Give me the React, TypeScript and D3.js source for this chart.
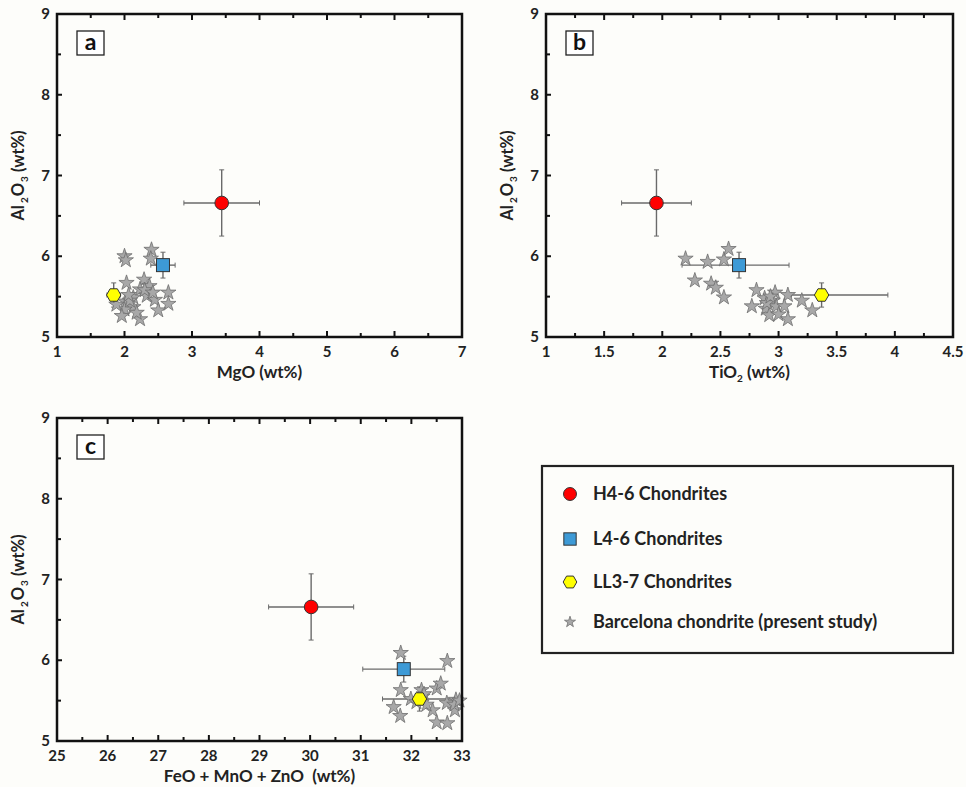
import React from "react";
import * as d3 from "d3";

// ---------- DATA ----------
// Panel a: MgO vs Al2O3
const starsA_MgO = [2.0, 2.02, 2.40, 2.39, 2.03, 2.29, 2.23, 2.37, 2.13, 2.33, 2.45, 2.65, 2.65, 2.50, 2.01, 2.13, 2.0, 1.96, 2.23, 1.88, 2.08, 2.30, 2.18, 2.06, 2.42];
const starsA_Al = [6.0, 5.95, 6.08, 5.97, 5.67, 5.71, 5.59, 5.63, 5.49, 5.51, 5.46, 5.55, 5.41, 5.33, 5.44, 5.37, 5.34, 5.26, 5.22, 5.40, 5.45, 5.58, 5.30, 5.52, 5.55];
// Panel b: TiO2 vs Al2O3
const starsB_TiO2 = [2.20, 2.39, 2.53, 2.57, 2.28, 2.42, 2.46, 2.53, 2.81, 2.88, 2.97, 2.95, 3.08, 3.20, 2.77, 2.89, 2.98, 3.05, 2.92, 3.00, 3.08, 3.29, 2.90, 2.93];
const starsB_Al = [5.97, 5.93, 5.96, 6.09, 5.70, 5.66, 5.61, 5.49, 5.58, 5.48, 5.55, 5.45, 5.52, 5.45, 5.38, 5.35, 5.38, 5.38, 5.27, 5.28, 5.22, 5.33, 5.42, 5.50];
// Panel c: FeO+MnO+ZnO vs Al2O3
const starsC_Fe = [31.79, 32.71, 31.79, 32.20, 32.50, 32.58, 31.99, 31.65, 31.78, 32.42, 32.70, 32.88, 32.86, 32.50, 32.71, 32.22, 32.10, 32.25, 32.85, 32.95, 32.30];
const starsC_Al = [6.09, 5.99, 5.63, 5.63, 5.65, 5.71, 5.52, 5.42, 5.31, 5.38, 5.47, 5.51, 5.38, 5.23, 5.22, 5.55, 5.48, 5.58, 5.45, 5.50, 5.45];

// Reference groups: H4-6, L4-6, LL3-7
const groupNames = ["H4-6 Chondrites", "L4-6 Chondrites", "LL3-7 Chondrites"];
const refMgO = [3.44, 2.57, 1.84];
const refMgOErr = [0.56, 0.18, 0.1];
const refTiO2 = [1.95, 2.66, 3.37];
const refTiO2ErrLow = [0.30, 0.49, 0.26];
const refTiO2ErrHigh = [0.30, 0.43, 0.57];
const refFe = [30.02, 31.85, 32.16];
const refFeErrLow = [0.84, 0.81, 0.73];
const refFeErrHigh = [0.84, 0.81, 0.82];
const refAl = [6.66, 5.89, 5.52];
const refAlErr = [0.41, 0.16, 0.15];

const starLegend = "Barcelona chondrite (present study)";
const yTicks = [5, 6, 7, 8, 9];
const xTicksA = [1, 2, 3, 4, 5, 6, 7];
const xTicksB = [1, 1.5, 2, 2.5, 3, 3.5, 4, 4.5];
const xTicksC = [25, 26, 27, 28, 29, 30, 31, 32, 33];

// ---------- STYLE ----------
const FONT = "Lato, 'Open Sans', sans-serif";
const colors = ["#ff0000", "#3d9ad6", "#ffff00"];
const starFill = "#a8a8a8";
const starStroke = "#6e6e6e";
const errColor = "#6a6a6a";

const starPath = d3.symbol().type(d3.symbolStar).size(72)() as string;
const starPathSmall = d3.symbol().type(d3.symbolStar).size(38)() as string;
const hexPath = (r: number) => {
  const pts = d3.range(6).map((i) => {
    const a = (Math.PI / 3) * i;
    return [r * Math.cos(a), r * Math.sin(a)];
  });
  return "M" + pts.map((p) => p.join(",")).join("L") + "Z";
};

function Marker({ k, x, y, scale = 1 }: { k: number; x: number; y: number; scale?: number }) {
  if (k === 0) return <circle cx={x} cy={y} r={6.8 * scale} fill={colors[0]} stroke="#333" strokeWidth={1} />;
  if (k === 1) {
    const s = 6.5 * scale;
    return <rect x={x - s} y={y - s} width={2 * s} height={2 * s} fill={colors[1]} stroke="#333" strokeWidth={1} />;
  }
  return <path d={hexPath(7.2 * scale)} transform={`translate(${x},${y})`} fill={colors[2]} stroke="#333" strokeWidth={1} />;
}

type PanelProps = {
  label: string;
  xDomain: [number, number];
  xRange: [number, number];
  yRange: [number, number];
  xTicks: number[];
  minorStep: number;
  starsX: number[];
  starsY: number[];
  refX: number[];
  errLow: number[];
  errHigh: number[];
  xTitle: React.ReactNode;
  yTitleX: number;
};

function Panel(p: PanelProps) {
  const x = d3.scaleLinear().domain(p.xDomain).range(p.xRange);
  const y = d3.scaleLinear().domain([5, 9]).range(p.yRange);
  const [x0, x1] = p.xRange;
  const [yb, yt] = p.yRange;
  const minorX = d3.range(p.xDomain[0], p.xDomain[1] + 1e-9, p.minorStep).filter(
    (v) => !p.xTicks.some((t) => Math.abs(t - v) < 1e-9)
  );
  const minorY = d3.range(5.5, 9, 1);
  const cap = 2.5;
  return (
    <g>
      {/* error bars */}
      {p.refX.map((rx, i) => {
        const cx = x(rx);
        const cy = y(refAl[i]);
        const xl = x(rx - p.errLow[i]);
        const xr = x(rx + p.errHigh[i]);
        const yu = y(refAl[i] + refAlErr[i]);
        const yd = y(refAl[i] - refAlErr[i]);
        return (
          <g key={"e" + i} stroke={errColor} strokeWidth={1.4}>
            <line x1={xl} x2={xr} y1={cy} y2={cy} />
            <line x1={cx} x2={cx} y1={yu} y2={yd} />
            <line x1={xl} x2={xl} y1={cy - cap} y2={cy + cap} strokeWidth={1} />
            <line x1={xr} x2={xr} y1={cy - cap} y2={cy + cap} strokeWidth={1} />
            <line x1={cx - cap} x2={cx + cap} y1={yu} y2={yu} strokeWidth={1} />
            <line x1={cx - cap} x2={cx + cap} y1={yd} y2={yd} strokeWidth={1} />
          </g>
        );
      })}
      {/* stars */}
      {p.starsX.map((sx, i) => (
        <path
          key={"s" + i}
          d={starPath}
          transform={`translate(${x(sx)},${y(p.starsY[i])})`}
          fill={starFill}
          stroke={starStroke}
          strokeWidth={0.8}
        />
      ))}
      {/* reference markers */}
      {p.refX.map((rx, i) => (
        <Marker key={"m" + i} k={i} x={x(rx)} y={y(refAl[i])} />
      ))}
      {/* frame */}
      <rect x={x0} y={yt} width={x1 - x0} height={yb - yt} fill="none" stroke="#111" strokeWidth={2.5} />
      {/* ticks */}
      <g stroke="#111" strokeWidth={2}>
        {p.xTicks.slice(1, -1).map((t) => (
          <g key={"xt" + t}>
            <line x1={x(t)} x2={x(t)} y1={yb} y2={yb - 6} />
            <line x1={x(t)} x2={x(t)} y1={yt} y2={yt + 6} />
          </g>
        ))}
        {minorX.map((t) => (
          <g key={"xm" + t}>
            <line x1={x(t)} x2={x(t)} y1={yb} y2={yb - 4} />
            <line x1={x(t)} x2={x(t)} y1={yt} y2={yt + 4} />
          </g>
        ))}
        {[6, 7, 8].map((t) => (
          <line key={"yt" + t} x1={x0} x2={x0 + 5} y1={y(t)} y2={y(t)} />
        ))}
        {minorY.map((t) => (
          <line key={"ym" + t} x1={x0} x2={x0 + 4} y1={y(t)} y2={y(t)} />
        ))}
      </g>
      {/* tick labels */}
      <g fontFamily={FONT} fontWeight="bold" fontSize={15} fill="#222">
        {p.xTicks.map((t) => (
          <text key={"xl" + t} x={x(t)} y={yb + 20} textAnchor="middle">
            {t}
          </text>
        ))}
        {yTicks.map((t) => (
          <text key={"yl" + t} x={x0 - 7} y={y(t) + 5} textAnchor="end">
            {t}
          </text>
        ))}
      </g>
      {/* axis titles */}
      <text x={(x0 + x1) / 2} y={yb + 41} textAnchor="middle" fontFamily={FONT} fontWeight="bold" fontSize={17} fill="#222">
        {p.xTitle}
      </text>
      <text
        transform={`translate(${p.yTitleX},${(yb + yt) / 2}) rotate(-90)`}
        textAnchor="middle"
        fontFamily={FONT}
        fontWeight="bold"
        fontSize={16.5}
        fill="#222"
      >
        Al
        <tspan fontSize={10} dy={4} dx={2}>2</tspan>
        <tspan dy={-4} dx={1}>O</tspan>
        <tspan fontSize={10} dy={4} dx={1}>3</tspan>
        <tspan dy={-4}> (wt%)</tspan>
      </text>
      {/* panel label */}
      <rect x={x0 + 20} y={yt + 17} width={27} height={24} fill="#fff" stroke="#222" strokeWidth={1.3} />
      <text x={x0 + 33.5} y={yt + 36} textAnchor="middle" fontFamily={FONT} fontWeight="bold" fontSize={23} fill="#111">
        {p.label}
      </text>
    </g>
  );
}

export default function App() {
  const W = 966;
  const H = 787;
  const legendRows = [494, 539, 582, 622];
  return (
    <svg width={W} height={H} style={{ position: "absolute", left: 0, top: 0, background: "#fdfdfa" }}>
      <rect width={W} height={H} fill="#fdfdfa" />
      <Panel
        label="a"
        xDomain={[1, 7]}
        xRange={[57, 462]}
        yRange={[337, 14]}
        xTicks={xTicksA}
        minorStep={0.5}
        starsX={starsA_MgO}
        starsY={starsA_Al}
        refX={refMgO}
        errLow={refMgOErr}
        errHigh={refMgOErr}
        xTitle="MgO (wt%)"
        yTitleX={24}
      />
      <Panel
        label="b"
        xDomain={[1, 4.5]}
        xRange={[546, 953]}
        yRange={[337, 14]}
        xTicks={xTicksB}
        minorStep={0.25}
        starsX={starsB_TiO2}
        starsY={starsB_Al}
        refX={refTiO2}
        errLow={refTiO2ErrLow}
        errHigh={refTiO2ErrHigh}
        xTitle={
          <>
            TiO<tspan fontSize={10} dy={4}>2</tspan>
            <tspan dy={-4}> (wt%)</tspan>
          </>
        }
        yTitleX={513}
      />
      <Panel
        label="c"
        xDomain={[25, 33]}
        xRange={[57, 462]}
        yRange={[741, 418]}
        xTicks={xTicksC}
        minorStep={0.5}
        starsX={starsC_Fe}
        starsY={starsC_Al}
        refX={refFe}
        errLow={refFeErrLow}
        errHigh={refFeErrHigh}
        xTitle={"FeO + MnO + ZnO\u00a0\u00a0(wt%)"}
        yTitleX={24}
      />
      {/* legend */}
      <rect x={542} y={466} width={411} height={187} fill="#fdfdfa" stroke="#222" strokeWidth={2.2} />
      {groupNames.map((n, i) => (
        <g key={n}>
          <Marker k={i} x={570} y={legendRows[i]} scale={0.95} />
          <text x={593} y={legendRows[i] + 6} fontFamily={FONT} fontWeight="bold" fontSize={18} fill="#222">
            {n}
          </text>
        </g>
      ))}
      <path d={starPathSmall} transform={`translate(570,${legendRows[3]})`} fill={starFill} stroke={starStroke} strokeWidth={0.8} />
      <text x={593} y={legendRows[3] + 6} fontFamily={FONT} fontWeight="bold" fontSize={18} fill="#222">
        {starLegend}
      </text>
    </svg>
  );
}
